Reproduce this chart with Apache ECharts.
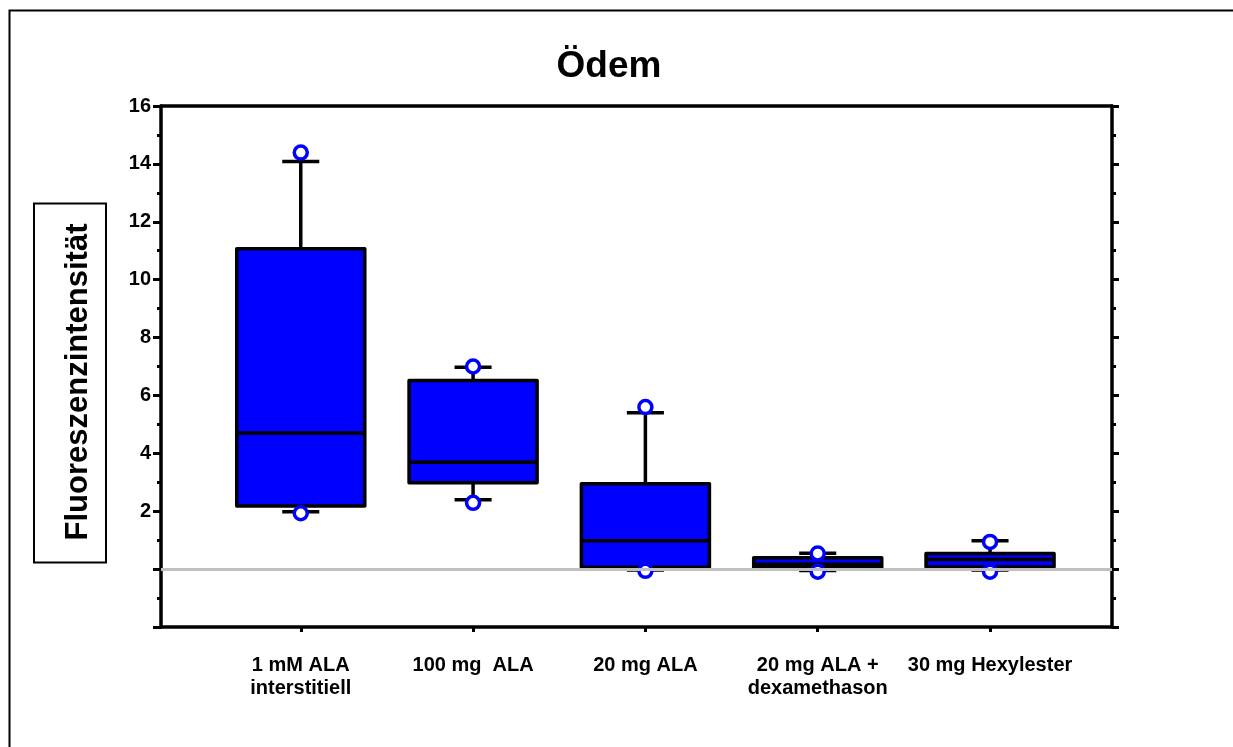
<!DOCTYPE html>
<html><head><meta charset="utf-8">
<script src="https://cdn.jsdelivr.net/npm/echarts@6/dist/echarts.min.js"></script>
<style>html,body{margin:0;padding:0;background:#fff}#c{width:1233px;height:747px}</style>
</head><body><div id="c"></div>
<script>
const categories = ['1 mM ALA\ninterstitiell', '100 mg  ALA', '20 mg ALA', '20 mg ALA +\ndexamethason', '30 mg Hexylester'];
const whiskerLow  = [1.98, 2.40, -0.03, -0.05, -0.03];
const q1          = [2.18, 2.98, 0.06, 0.05, 0.07];
const median      = [4.70, 3.69, 0.98, 0.17, 0.33];
const q3          = [11.07, 6.52, 2.95, 0.39, 0.54];
const whiskerHigh = [14.08, 6.97, 5.40, 0.55, 0.98];
const pointHigh   = [14.39, 7.00, 5.60, 0.54, 0.94];
const pointLow    = [1.93, 2.29, -0.06, -0.09, -0.09];
const yMin = -2, yMax = 16, yInterval = 2;
const titleText = 'Ödem';
const yTitle = 'Fluoreszenzintensität';

const FONT = "'Liberation Sans', Arial, sans-serif";
const boxData = categories.map((c, i) => [i, whiskerLow[i], q1[i], median[i], q3[i], whiskerHigh[i]]);
const ptsData = [];
categories.forEach((c, i) => { ptsData.push([i, pointHigh[i]]); ptsData.push([i, pointLow[i]]); });

const chart = echarts.init(document.getElementById('c'), null, {renderer: 'canvas'});
const axisLineStyle = {color: '#000', width: 3.5};
chart.setOption({
  animation: false,
  backgroundColor: '#fff',
  grid: [
    {left: 161, right: 121, top: 106, bottom: 120},
    {left: 214.6, right: 156.8, top: 106, bottom: 120}
  ],
  xAxis: [
    {gridIndex: 0, type: 'value', min: 0, max: 1, position: 'bottom',
     axisLine: {show: true, onZero: false, lineStyle: axisLineStyle}, axisTick: {show: false}, axisLabel: {show: false}, splitLine: {show: false}},
    {gridIndex: 0, type: 'value', min: 0, max: 1, position: 'top',
     axisLine: {show: true, onZero: false, lineStyle: axisLineStyle}, axisTick: {show: false}, axisLabel: {show: false}, splitLine: {show: false}},
    {gridIndex: 1, type: 'category', data: categories, position: 'bottom',
     axisLine: {show: false, onZero: false},
     axisTick: {show: true, alignWithLabel: true, length: 5, lineStyle: {color: '#000', width: 3}},
     axisLabel: {color: '#000', fontFamily: FONT, fontWeight: 'bold', fontSize: 20, lineHeight: 23, margin: 27, interval: 0},
     splitLine: {show: false}}
  ],
  yAxis: [
    {gridIndex: 0, type: 'value', min: yMin, max: yMax, interval: yInterval, position: 'left',
     axisLine: {show: true, onZero: false, lineStyle: axisLineStyle},
     axisTick: {show: true, length: 8, lineStyle: {color: '#000', width: 3}},
     minorTick: {show: true, splitNumber: 2, length: 4, lineStyle: {color: '#000', width: 3}},
     axisLabel: {color: '#000', fontFamily: FONT, fontWeight: 'bold', fontSize: 20, margin: 10,
       formatter: v => (v > 0 ? String(v) : '')},
     splitLine: {show: false}},
    {gridIndex: 0, type: 'value', min: yMin, max: yMax, interval: yInterval, position: 'right',
     axisLine: {show: true, onZero: false, lineStyle: axisLineStyle},
     axisTick: {show: true, length: 7, lineStyle: {color: '#000', width: 3}},
     minorTick: {show: true, splitNumber: 2, length: 4, lineStyle: {color: '#000', width: 3}},
     axisLabel: {show: false}, splitLine: {show: false}},
    {gridIndex: 1, type: 'value', min: yMin, max: yMax, interval: yInterval,
     axisLine: {show: false, onZero: false}, axisTick: {show: false}, axisLabel: {show: false}, splitLine: {show: false}}
  ],
  series: [
    {type: 'line', xAxisIndex: 0, yAxisIndex: 0, data: [], z: 1,
     markLine: {silent: true, symbol: ['none', 'none'], label: {show: false},
       lineStyle: {color: '#c0c0c0', width: 3, type: 'solid'}, data: [{yAxis: 0}]}},
    {type: 'custom', xAxisIndex: 2, yAxisIndex: 2, z: 2, data: boxData,
     renderItem: function (params, api) {
       const x = api.value(0);
       const pLo = api.coord([x, api.value(1)]);
       const pQ1 = api.coord([x, api.value(2)]);
       const pMed = api.coord([x, api.value(3)]);
       const pQ3 = api.coord([x, api.value(4)]);
       const pHi = api.coord([x, api.value(5)]);
       const band = api.size([1, 0])[0];
       const bw = band * 0.743, cw = band * 0.215;
       const cx = pMed[0];
       const ls = {stroke: '#000', lineWidth: 3.5};
       return {type: 'group', children: [
         {type: 'line', shape: {x1: cx, y1: pQ3[1], x2: cx, y2: pHi[1]}, style: ls},
         {type: 'line', shape: {x1: cx, y1: pQ1[1], x2: cx, y2: pLo[1]}, style: ls},
         {type: 'line', shape: {x1: cx - cw / 2, y1: pHi[1], x2: cx + cw / 2, y2: pHi[1]}, style: ls},
         {type: 'line', shape: {x1: cx - cw / 2, y1: pLo[1], x2: cx + cw / 2, y2: pLo[1]}, style: ls},
         {type: 'rect', shape: {x: cx - bw / 2, y: pQ3[1], width: bw, height: pQ1[1] - pQ3[1]},
          style: {fill: '#0000ff', stroke: '#000', lineWidth: 3.5, lineJoin: 'round'}},
         {type: 'line', shape: {x1: cx - bw / 2, y1: pMed[1], x2: cx + bw / 2, y2: pMed[1]}, style: ls}
       ]};
     }},
    {type: 'scatter', xAxisIndex: 2, yAxisIndex: 2, z: 3, data: ptsData, symbol: 'circle', symbolSize: 13,
     itemStyle: {color: '#fff', borderColor: '#0000ff', borderWidth: 3.5, opacity: 1}, silent: true}
  ],
  graphic: [
    {type: 'rect', z: -10, shape: {x: 9.5, y: 10.5, width: 1240, height: 800},
     style: {fill: 'none', stroke: '#000', lineWidth: 2}},
    {type: 'text', z: 10, x: 609, y: 67,
     style: {text: titleText, fill: '#000', font: "bold 37px " + FONT, textAlign: 'center', textVerticalAlign: 'middle'}},
    {type: 'rect', z: 5, shape: {x: 34, y: 203.5, width: 72, height: 359},
     style: {fill: '#fff', stroke: '#000', lineWidth: 2}},
    {type: 'text', z: 10, x: 78, y: 382, rotation: Math.PI / 2,
     style: {text: yTitle, fill: '#000', font: "bold 31px " + FONT, textAlign: 'center', textVerticalAlign: 'middle'}}
  ]
});
</script></body></html>
